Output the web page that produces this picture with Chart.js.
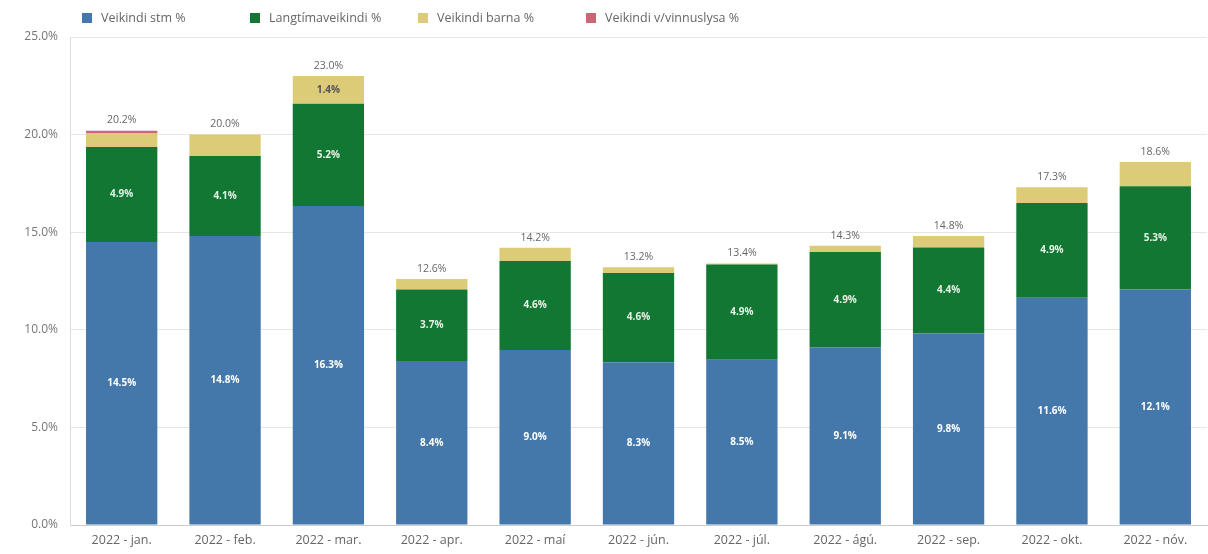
<!DOCTYPE html>
<html>
<head>
<meta charset="utf-8">
<script src="https://cdn.jsdelivr.net/npm/chart.js@4.4.1/dist/chart.umd.min.js"></script>
<style>
  html, body { margin: 0; padding: 0; background: #ffffff; }
  #wrap { width: 1208px; height: 554px; position: relative; }
</style>
</head>
<body>
<div id="wrap"><canvas id="c" width="1208" height="554"></canvas></div>
<script>
const categories = ["2022 - jan.", "2022 - feb.", "2022 - mar.", "2022 - apr.", "2022 - maí", "2022 - jún.", "2022 - júl.", "2022 - ágú.", "2022 - sep.", "2022 - okt.", "2022 - nóv."];
const seriesNames = ["Veikindi stm %", "Langtímaveikindi %", "Veikindi barna %", "Veikindi v/vinnuslysa %"];
const veikindiStm = [14.50, 14.80, 16.34, 8.40, 8.97, 8.34, 8.46, 9.10, 9.81, 11.64, 12.06];
const langtimaveikindi = [4.86, 4.10, 5.24, 3.66, 4.56, 4.57, 4.88, 4.88, 4.40, 4.86, 5.30];
const veikindiBarna = [0.72, 1.10, 1.42, 0.54, 0.67, 0.29, 0.06, 0.32, 0.59, 0.80, 1.24];
const veikindiVinnuslysa = [0.12, 0, 0, 0, 0, 0, 0, 0, 0, 0, 0];
const yTicks = [0, 5, 10, 15, 20, 25];

const colors = ["#4477aa", "#117733", "#ddcc77", "#cc6677"];
const labelColors = ["#ffffff", "#e6f2e6", "#555555", "#ffffff"];
const FONT = "'Open Sans', 'DejaVu Sans', sans-serif";

const seriesData = [veikindiStm, langtimaveikindi, veikindiBarna, veikindiVinnuslysa];

const valueLabels = {
  id: 'valueLabels',
  afterDatasetsDraw(chart) {
    const ctx = chart.ctx;
    ctx.save();
    ctx.textAlign = 'center';
    ctx.textBaseline = 'middle';
    chart.data.datasets.forEach((ds, di) => {
      const meta = chart.getDatasetMeta(di);
      meta.data.forEach((bar, i) => {
        const v = ds.data[i];
        const h = Math.abs(bar.base - bar.y);
        if (h >= 26) {
          ctx.font = "bold 10px " + FONT;
          ctx.fillStyle = labelColors[di];
          ctx.fillText(v.toFixed(1) + "%", bar.x, (bar.y + bar.base) / 2);
        }
      });
    });
    const yScale = chart.scales.y;
    const lastMeta = chart.getDatasetMeta(chart.data.datasets.length - 1);
    categories.forEach((c, i) => {
      let total = 0;
      seriesData.forEach(s => { total += s[i]; });
      const x = lastMeta.data[i].x;
      const y = yScale.getPixelForValue(total);
      ctx.font = "10.5px " + FONT;
      ctx.fillStyle = "#666666";
      ctx.textBaseline = 'bottom';
      ctx.fillText(total.toFixed(1) + "%", x, y - 5);
    });
    ctx.restore();
  }
};

const customLegend = {
  id: 'customLegend',
  afterDraw(chart) {
    const ctx = chart.ctx;
    ctx.save();
    ctx.font = "12.5px " + FONT;
    ctx.textBaseline = 'middle';
    ctx.textAlign = 'left';
    seriesNames.forEach((n, i) => {
      const x = 82 + i * 168;
      const y = 18;
      ctx.fillStyle = colors[i];
      ctx.fillRect(x, y - 5, 10, 10);
      ctx.fillStyle = "#666666";
      ctx.fillText(n, x + 19, y);
    });
    ctx.restore();
  }
};

new Chart(document.getElementById('c'), {
  type: 'bar',
  data: {
    labels: categories,
    datasets: seriesNames.map((n, i) => ({
      label: n,
      data: seriesData[i],
      backgroundColor: colors[i],
      borderWidth: 0,
      categoryPercentage: 1.0,
      barPercentage: 0.69
    }))
  },
  options: {
    responsive: false,
    animation: false,
    devicePixelRatio: 1,
    layout: { padding: { top: 37, left: 0, right: 1, bottom: 0 } },
    plugins: {
      legend: { display: false },
      tooltip: { enabled: false }
    },
    scales: {
      x: {
        stacked: true,
        grid: { display: false, drawTicks: false },
        border: { display: true, color: "#cccccc" },
        ticks: { color: "#666666", font: { family: FONT, size: 12.5 }, padding: 8, maxRotation: 0, autoSkip: false },
        afterFit(scale) { scale.height = 29; }
      },
      y: {
        stacked: true,
        min: 0,
        max: 25,
        afterBuildTicks(scale) { scale.ticks = yTicks.map(v => ({ value: v })); },
        grid: { color: "#e6e6e6", drawTicks: false },
        border: { display: true, color: "#dddddd" },
        ticks: {
          color: "#777777",
          font: { family: FONT, size: 12 },
          padding: 12,
          callback: v => Number(v).toFixed(1) + "%"
        },
        afterFit(scale) { scale.width = 70; }
      }
    }
  },
  plugins: [valueLabels, customLegend]
});
</script>
</body>
</html>
